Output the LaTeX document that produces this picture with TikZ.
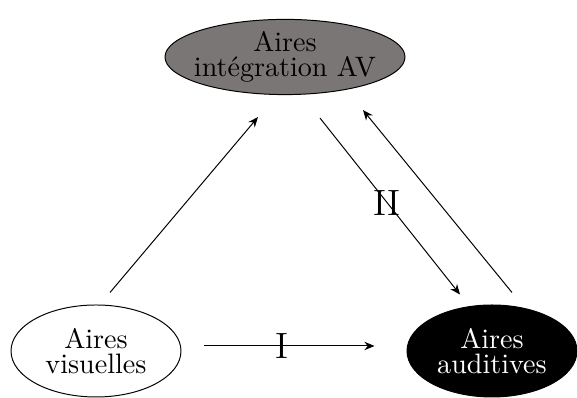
\documentclass[tikz,border=0pt]{standalone}
\usepackage{xcolor}
\usepackage{tikz}
\usetikzlibrary{arrows.meta,positioning,calc,shapes.geometric}
\definecolor{integfill}{HTML}{7A7675}

\begin{document}
\begin{tikzpicture}[
  area/.style={draw, ellipse, inner sep=0pt, line width=0.35pt},
  areatext/.style={align=center, inner sep=0pt, font=\fontsize{10}{8.8}\selectfont},
  arr/.style={-{Stealth[length=3.6pt, width=3pt]}, line width=0.35pt},
  num/.style={inner sep=0pt, font=\fontsize{13}{15}\selectfont}
]
  \useasboundingbox (0,0) rectangle (7.2125,4.975);
  \node[area, fill=integfill, minimum width=3cm, minimum height=0.94cm] (integ) at (3.5625,4.2625) {};
  \node[area, fill=white, minimum width=2.125cm, minimum height=1.15cm] (vis) at (1.2,0.5875) {};
  \node[area, fill=black, minimum width=2.125cm, minimum height=1.15cm] (aud) at (6.15,0.5875) {};
  \node[areatext] (integ-t) at (integ) {Aires\\intégration AV};
  \node[areatext] (vis-t) at (vis) {Aires\\visuelles};
  \node[areatext, text=white] (aud-t) at (aud) {Aires\\auditives};

  \draw[arr] ($(vis.north)+(0.175,0.15)$) -- ($(integ.south)+(-0.3375,-0.275)$);
  \draw[arr] ($(integ.south)+(0.4375,-0.2875)$) -- node[num, pos=0.48] (two) {II} ($(aud.north)+(-0.4,0.125)$);
  \draw[arr] ($(aud.north)+(0.25,0.15)$) -- ($(integ.south)+(0.975,-0.1875)$);
  \draw[arr] ($(vis.east)+(0.2875,0.0625)$) -- node[num, pos=0.456] (one) {I} ($(aud.west)+(-0.4,0.0625)$);
\end{tikzpicture}
\end{document}
